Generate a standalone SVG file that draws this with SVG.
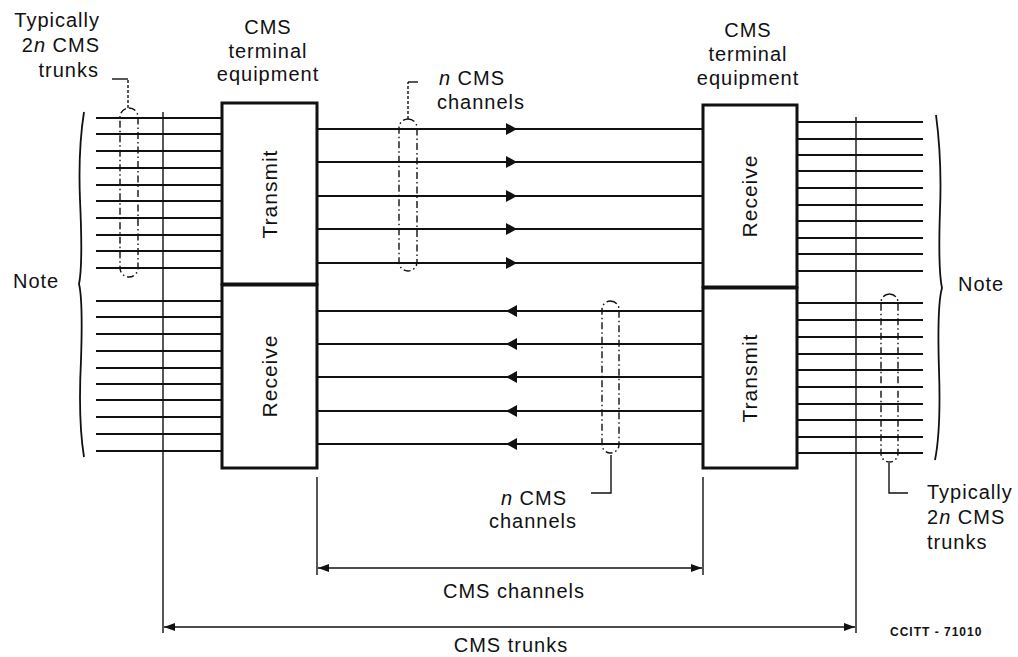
<svg xmlns="http://www.w3.org/2000/svg" width="1018" height="657" viewBox="0 0 1018 657">
<style>
text{font-family:"Liberation Sans",Arial,sans-serif;font-size:20px;letter-spacing:1px;fill:#111}
.rot{font-size:21px}
.code{font-size:12px;font-weight:bold;letter-spacing:1px}
.box{fill:#fff;stroke:#111;stroke-width:3}
.ln{stroke:#111;stroke-width:2;fill:none}
.thin{stroke:#111;stroke-width:1.4;fill:none}
.brace{stroke:#111;stroke-width:1.8;fill:none}
.dd{stroke:#111;stroke-width:1.4;fill:none;stroke-dasharray:7,3,1.5,3}
.dot{stroke:#111;stroke-width:1.4;fill:none;stroke-dasharray:3,2}
.ah{fill:#111}
</style>
<defs>
<marker id="dimL" markerWidth="12" markerHeight="10" refX="0" refY="5" orient="auto" markerUnits="userSpaceOnUse"><path d="M0,5 L11,1 L11,9 Z" fill="#111"/></marker>
<marker id="dimR" markerWidth="12" markerHeight="10" refX="11" refY="5" orient="auto" markerUnits="userSpaceOnUse"><path d="M11,5 L0,1 L0,9 Z" fill="#111"/></marker>
</defs>

<!-- labels -->
<g id="labels">
<text x="100" y="27" text-anchor="end">Typically</text>
<text x="100" y="52" text-anchor="end">2<tspan font-style="italic">n</tspan> CMS</text>
<text x="99" y="77" text-anchor="end">trunks</text>
<text x="268" y="34" text-anchor="middle">CMS</text>
<text x="268" y="58" text-anchor="middle">terminal</text>
<text x="268" y="81" text-anchor="middle">equipment</text>
<text x="748" y="37" text-anchor="middle">CMS</text>
<text x="748" y="61" text-anchor="middle">terminal</text>
<text x="748" y="85" text-anchor="middle">equipment</text>
<text x="472" y="85" text-anchor="middle"><tspan font-style="italic">n</tspan> CMS</text>
<text x="481" y="109" text-anchor="middle">channels</text>
<text x="534" y="505" text-anchor="middle"><tspan font-style="italic">n</tspan> CMS</text>
<text x="533" y="528" text-anchor="middle">channels</text>
<text x="927" y="499">Typically</text>
<text x="927" y="524">2<tspan font-style="italic">n</tspan> CMS</text>
<text x="927" y="549">trunks</text>
<text x="13" y="288">Note</text>
<text x="958" y="291">Note</text>
<text x="514" y="598" text-anchor="middle">CMS channels</text>
<text x="511" y="652" text-anchor="middle">CMS trunks</text>
<text class="code" x="890" y="636">CCITT - 71010</text>
</g>

<!-- connectors -->
<g id="connectors">
<!-- left trunks -->
<path class="ln" d="M96,118H222M96,134H222M96,151H222M96,168H222M96,185H222M96,201H222M96,218H222M96,235H222M96,251H222M96,268H222"/>
<path class="ln" d="M96,301H222M96,317H222M96,334H222M96,351H222M96,368H222M96,384H222M96,400H222M96,417H222M96,434H222M96,451H222"/>
<!-- right trunks -->
<path class="ln" d="M797,122H923M797,139H923M797,155H923M797,171H923M797,188H923M797,205H923M797,221H923M797,238H923M797,254H923M797,271H923"/>
<path class="ln" d="M797,303H923M797,320H923M797,337H923M797,354H923M797,370H923M797,387H923M797,404H923M797,420H923M797,437H923M797,453H923"/>
<!-- channels -->
<path class="ln" d="M317,129H703M317,162H703M317,196H703M317,229H703M317,263H703"/>
<path class="ln" d="M317,311H703M317,344H703M317,377H703M317,411H703M317,444H703"/>
<g class="ah">
<path d="M517,129L506,123L506,135Z"/>
<path d="M517,162L506,156L506,168Z"/>
<path d="M517,196L506,190L506,202Z"/>
<path d="M517,229L506,223L506,235Z"/>
<path d="M517,263L506,257L506,269Z"/>
<path d="M506,311L517,305L517,317Z"/>
<path d="M506,344L517,338L517,350Z"/>
<path d="M506,377L517,371L517,383Z"/>
<path d="M506,411L517,405L517,417Z"/>
<path d="M506,444L517,438L517,450Z"/>
</g>
<!-- vertical reference lines -->
<path class="thin" d="M163,112V633"/>
<path class="thin" d="M856,117V633"/>
<path class="thin" d="M317,477V575"/>
<path class="thin" d="M703,477V575"/>
<!-- dimension lines -->
<path class="thin" d="M318,568H702" marker-start="url(#dimL)" marker-end="url(#dimR)"/>
<path class="thin" d="M164,627H855" marker-start="url(#dimL)" marker-end="url(#dimR)"/>
<!-- dash-dot group outlines -->
<rect class="dd" x="120" y="108" width="18" height="169" rx="9"/>
<rect class="dd" x="399" y="119" width="18" height="152" rx="9"/>
<rect class="dd" x="602" y="301" width="17" height="152" rx="8.5"/>
<rect class="dd" x="881" y="294" width="17" height="168" rx="8.5"/>
<!-- leaders -->
<path class="dot" d="M128,108V79"/><path class="thin" d="M128,79H112"/>
<path class="dot" d="M408,119V82"/><path class="thin" d="M408,82H418"/>
<path class="thin" d="M611,455V493H591"/>
<path class="thin" d="M889,463V493H908"/>
<!-- braces -->
<path class="brace" d="M84,112Q78,150 80,200Q83,265 79,284Q83,300 81,360Q78,420 84,457"/>
<path class="brace" d="M936,115Q942,160 940,210Q938,270 942,288Q937,305 939,370Q941,430 935,460"/>
</g>

<!-- nodes -->
<g id="transmit-left">
<rect class="box" x="222" y="103" width="95" height="181"/>
<text class="rot" transform="translate(277,194) rotate(-90)" text-anchor="middle">Transmit</text>
</g>
<g id="receive-left">
<rect class="box" x="222" y="285" width="95" height="183"/>
<text class="rot" transform="translate(277,376) rotate(-90)" text-anchor="middle">Receive</text>
</g>
<g id="receive-right">
<rect class="box" x="703" y="105" width="94" height="182"/>
<text class="rot" transform="translate(757,196) rotate(-90)" text-anchor="middle">Receive</text>
</g>
<g id="transmit-right">
<rect class="box" x="703" y="288" width="94" height="180"/>
<text class="rot" transform="translate(757,378) rotate(-90)" text-anchor="middle">Transmit</text>
</g>
</svg>
